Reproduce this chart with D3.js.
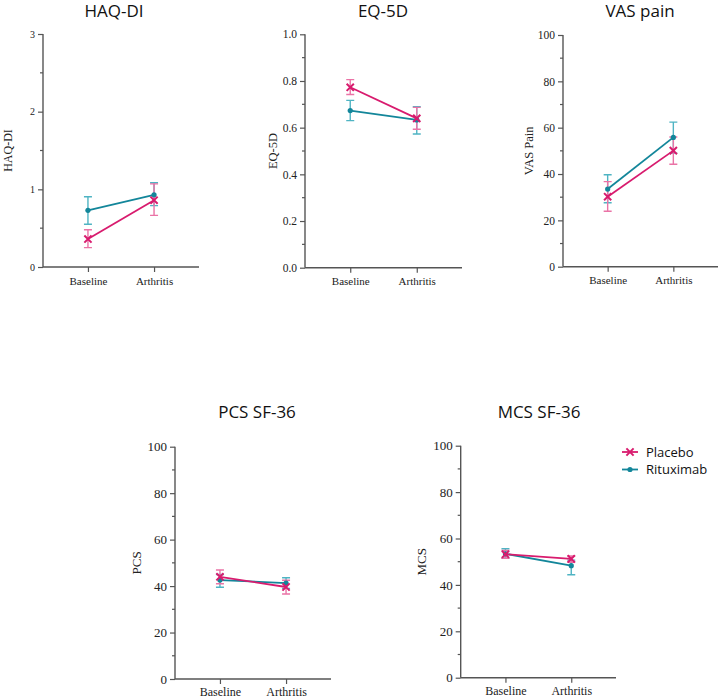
<!DOCTYPE html>
<html><head><meta charset="utf-8">
<script src="https://cdn.jsdelivr.net/npm/d3@7"></script>
<style>body{margin:0;background:#fff}svg{display:block}</style>
</head><body>
<svg id="c" width="719" height="699"></svg>
<script>
// ---- data ----
const categories = ["Baseline", "Arthritis"];
const series = ["Placebo", "Rituximab"];
const titles = ["HAQ-DI", "EQ-5D", "VAS pain", "PCS SF-36", "MCS SF-36"];
const yLabels = ["HAQ-DI", "EQ-5D", "VAS Pain", "PCS", "MCS"];
const yMax = [3, 1, 100, 100, 100];
const yMajorTicks = [[0,1,2,3],[0,0.2,0.4,0.6,0.8,1.0],[0,20,40,60,80,100],[0,20,40,60,80,100],[0,20,40,60,80,100]];
const yMinorTicks = [[0.5,1.5,2.5],[0.1,0.3,0.5,0.7,0.9],[10,30,50,70,90],[10,30,50,70,90],[10,30,50,70,90]];
const yTickFormat = ["d", ".1f", "d", "d", "d"];
const placeboMean = [[0.36,0.86],[0.773,0.640],[30.2,50.1],[44.0,39.6],[53.2,51.2]];
const placeboLow  = [[0.25,0.665],[0.742,0.593],[23.9,44.2],[41.0,36.6],[51.5,49.7]];
const placeboHigh = [[0.48,1.07],[0.806,0.687],[36.7,56.0],[46.9,42.5],[54.8,52.5]];
const rituxMean = [[0.73,0.93],[0.673,0.633],[33.5,55.8],[42.6,41.3],[53.4,48.3]];
const rituxLow  = [[0.55,0.79],[0.63,0.573],[27.6,49.0],[39.5,39.0],[51.5,44.4]];
const rituxHigh = [[0.905,1.085],[0.717,0.69],[39.7,62.4],[45.0,43.6],[55.6,50.7]];

// ---- layout ----
const layout = [
  {x0:43, x1:199, top:34, bottom:267, titleX:114, titleY:17, labOff:35, tickFs:10, catFs:11, labFs:12, catDy:18},
  {x0:305, x1:462, top:34.3, bottom:267.7, titleX:383, titleY:17, labOff:32, tickFs:11.5, catFs:11, labFs:12.5, catDy:18},
  {x0:563, x1:718, top:35, bottom:266.7, titleX:640, titleY:17, labOff:34, tickFs:11.5, catFs:11, labFs:12.5, catDy:18},
  {x0:175, x1:331, top:446.7, bottom:679, titleX:257, titleY:418, labOff:39, tickFs:13, catFs:12, labFs:13, catDy:17.5},
  {x0:460.7, x1:616, top:445.7, bottom:677.7, titleX:539, titleY:418, labOff:39, tickFs:13, catFs:12, labFs:13, catDy:17.5}
];
const colors = {Placebo:"#d81b6e", Rituximab:"#13869a"};
const errColors = {Placebo:"#ea73a6", Rituximab:"#4fb4c3"};
const axisColor = "#555";

const svg = d3.select("#c");

function drawMarker(g, name, x, y) {
  if (name === "Placebo") {
    const s = 3.6;
    g.append("path").attr("d", `M${x-s},${y-s}L${x+s},${y+s}M${x-s},${y+s}L${x+s},${y-s}`)
      .attr("stroke", colors.Placebo).attr("stroke-width", 2).attr("fill", "none");
  } else {
    g.append("circle").attr("cx", x).attr("cy", y).attr("r", 2.6).attr("fill", colors.Rituximab);
  }
}

titles.forEach((title, i) => {
  const L = layout[i];
  const g = svg.append("g");
  const x = d3.scalePoint().domain(categories).range([L.x0, L.x1]).padding(0.68);
  const y = d3.scaleLinear().domain([0, yMax[i]]).range([L.bottom, L.top]);

  // title
  g.append("text").attr("x", L.titleX).attr("y", L.titleY).attr("text-anchor", "middle")
    .attr("font-family", "Open Sans").attr("font-size", 17).attr("fill", "#111").text(title);

  // y axis
  const ya = g.append("g").attr("transform", `translate(${L.x0},0)`)
    .call(d3.axisLeft(y).tickValues(yMajorTicks[i]).tickFormat(d3.format(yTickFormat[i])).tickSize(5).tickPadding(3));
  ya.selectAll("text").attr("font-family", "Liberation Serif").attr("font-size", L.tickFs).attr("fill", "#222");
  ya.selectAll("line").attr("stroke", axisColor).attr("stroke-width", 1.2);
  ya.select(".domain").attr("stroke", axisColor).attr("stroke-width", 1.4).attr("d", `M0,${L.bottom}V${L.top}`);
  g.append("g").selectAll("line").data(yMinorTicks[i]).join("line")
    .attr("x1", L.x0 - 3).attr("x2", L.x0).attr("y1", d => y(d)).attr("y2", d => y(d))
    .attr("stroke", axisColor).attr("stroke-width", 1.2);

  // x axis
  const xa = g.append("g").attr("transform", `translate(0,${L.bottom})`)
    .call(d3.axisBottom(x).tickSize(5).tickPadding(L.catDy - 5 - L.catFs * 0.75));
  xa.selectAll("text").attr("font-family", "Liberation Serif").attr("font-size", L.catFs).attr("fill", "#222");
  xa.selectAll("line").attr("stroke", axisColor).attr("stroke-width", 1.2);
  xa.select(".domain").attr("stroke", axisColor).attr("stroke-width", 1.4).attr("d", `M${L.x0},0H${L.x1}`);

  // y label
  g.append("text").attr("transform", `translate(${L.x0 - L.labOff},${(L.top + L.bottom) / 2}) rotate(-90)`)
    .attr("text-anchor", "middle").attr("dy", "0.35em")
    .attr("font-family", "Liberation Serif").attr("font-size", L.labFs).attr("fill", "#222").text(yLabels[i]);

  // series
  const sets = [
    {name:"Rituximab", mean:rituxMean[i], lo:rituxLow[i], hi:rituxHigh[i]},
    {name:"Placebo", mean:placeboMean[i], lo:placeboLow[i], hi:placeboHigh[i]}
  ];
  sets.forEach(s => {
    const pts = categories.map((c, k) => ({c, m:s.mean[k], lo:s.lo[k], hi:s.hi[k]}));
    const eg = g.append("g").attr("stroke", errColors[s.name]).attr("stroke-width", 1.4).attr("fill", "none");
    pts.forEach(p => {
      const cx = x(p.c);
      eg.append("path").attr("d",
        `M${cx},${y(p.lo)}V${y(p.hi)}M${cx-4},${y(p.hi)}H${cx+4}M${cx-4},${y(p.lo)}H${cx+4}`);
    });
  });
  sets.forEach(s => {
    const pts = categories.map((c, k) => ({c, m:s.mean[k]}));
    g.append("path").datum(pts)
      .attr("d", d3.line().x(d => x(d.c)).y(d => y(d.m)))
      .attr("stroke", colors[s.name]).attr("stroke-width", 1.8).attr("fill", "none");
    pts.forEach(p => drawMarker(g, s.name, x(p.c), y(p.m)));
  });
});

// legend
const lg = svg.append("g");
series.forEach((name, k) => {
  const yy = 452 + k * 17.5;
  lg.append("line").attr("x1", 622).attr("x2", 638).attr("y1", yy).attr("y2", yy)
    .attr("stroke", colors[name]).attr("stroke-width", 1.8);
  drawMarker(lg, name, 630, yy);
  lg.append("text").attr("x", 646).attr("y", yy).attr("dy", "0.35em")
    .attr("font-family", "Open Sans").attr("font-size", 13).attr("fill", "#111").text(name);
});
</script>
</body></html>
